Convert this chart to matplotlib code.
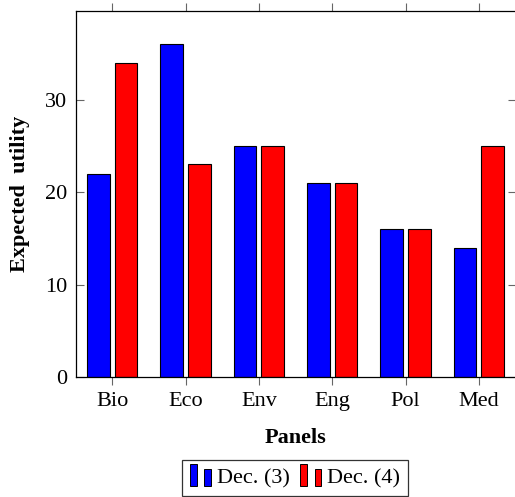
import matplotlib
matplotlib.use("Agg")
import matplotlib.pyplot as plt
import numpy as np
from matplotlib.patches import Rectangle
from matplotlib.legend_handler import HandlerBase

panels = ["Bio", "Eco", "Env", "Eng", "Pol", "Med"]
dec3 = [22, 36, 25, 21, 16, 14]
dec4 = [34, 23, 25, 21, 16, 25]
series_names = ["Dec. (3)", "Dec. (4)"]

plt.rcParams['font.family'] = ['Liberation Serif', 'DejaVu Serif']
plt.rcParams['mathtext.fontset'] = 'stix'
fs = 16


class TwoBarHandler(HandlerBase):
    # pgfplots style legend icon: two small bars
    def create_artists(self, legend, orig_handle, xdescent, ydescent,
                       width, height, fontsize, trans):
        fc = orig_handle.get_facecolor()
        w = width * 0.32
        y0 = -ydescent - height * 0.2
        r1 = Rectangle((-xdescent, y0), w, height * 1.45,
                       facecolor=fc, edgecolor='black', lw=0.7, transform=trans)
        r2 = Rectangle((-xdescent + width * 0.68, y0), w, height * 1.13,
                       facecolor=fc, edgecolor='black', lw=0.7, transform=trans)
        return [r1, r2]


fig = plt.figure(figsize=(5.15, 4.97), dpi=100)
ax = fig.add_axes([75.5 / 515, 1 - 377 / 497, 440 / 515, 366 / 497])

x = np.arange(len(panels))
off = 0.187
bw = 0.31
b1 = ax.bar(x - off, dec3, bw, color='#0000ff', edgecolor='black', lw=0.8)
b2 = ax.bar(x + off, dec4, bw, color='#ff0000', edgecolor='black', lw=0.8)

ax.set_xlim(-0.5, 5.5)
ax.set_ylim(0, 39.6)
ax.set_xticks(x)
ax.set_xticklabels(panels)
ax.set_yticks([0, 10, 20, 30])

ax.tick_params(axis='x', direction='out', length=6, width=0.8, color='#666666',
               top=True, labelsize=fs, pad=5)
ax.tick_params(axis='y', direction='in', length=6, width=0.8, color='#666666',
               right=True, labelsize=fs, pad=6)
for s in ax.spines.values():
    s.set_linewidth(0.9)

ax.set_xlabel("Panels", fontsize=fs, fontweight='bold', labelpad=12)
ax.set_ylabel("Expected  utility", fontsize=fs, fontweight='bold', labelpad=11)

leg = fig.legend([b1.patches[0], b2.patches[0]], series_names,
                 handler_map={Rectangle: TwoBarHandler()},
                 loc='upper center', bbox_to_anchor=(295 / 515, 1 - 460 / 497),
                 ncol=2, fontsize=fs, frameon=True, fancybox=False,
                 handlelength=0.95, handletextpad=0.26, columnspacing=0.48,
                 borderpad=0.35, borderaxespad=0)
leg.get_frame().set_edgecolor('black')
leg.get_frame().set_linewidth(0.9)

fig.savefig("out.png", dpi=100)
